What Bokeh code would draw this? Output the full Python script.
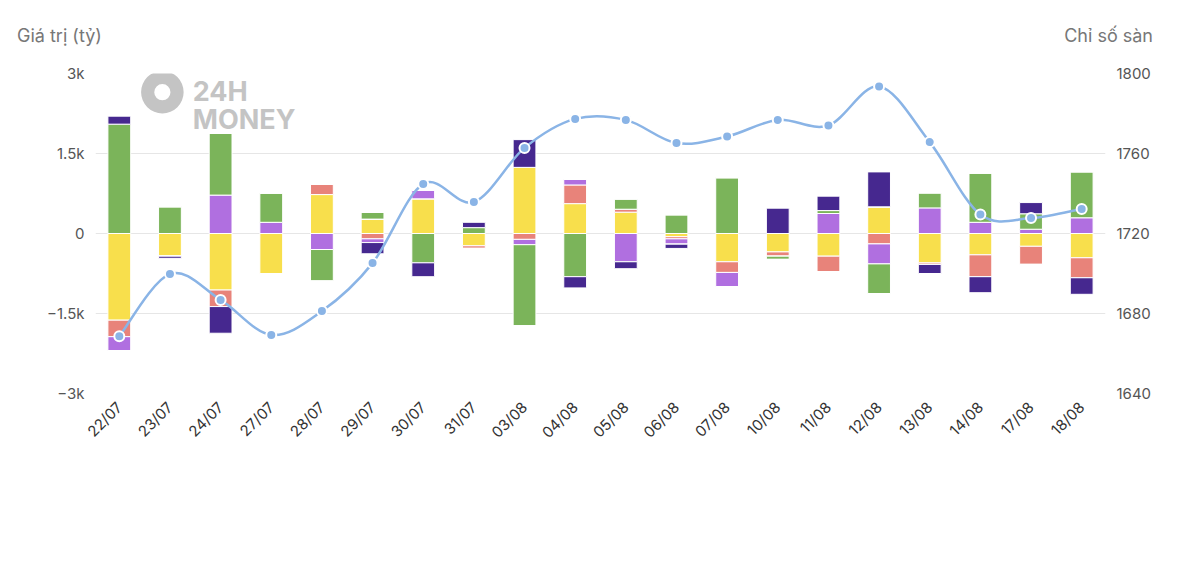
import numpy as np
from bokeh.plotting import figure
from bokeh.models import (Range1d, LinearAxis, FixedTicker, Legend, LegendItem, Label, Div)
from bokeh.layouts import column
from bokeh.embed import file_html
from bokeh.resources import INLINE

dates = ["22/07","23/07","24/07","27/07","28/07","29/07","30/07","31/07","03/08","04/08",
         "05/08","06/08","07/08","10/08","11/08","12/08","13/08","14/08","17/08","18/08"]
tu_doanh      = [150,-40,-500,0,0,-210,-260,100,520,-210,-130,-80,0,475,270,655,-170,-300,210,-310]
ca_nhan_tn    = [2050,500,1155,545,-590,125,-550,110,-1520,-810,190,350,1045,-60,55,-555,280,920,290,860]
to_chuc_tn    = [-260,0,720,210,-300,-70,160,0,-100,105,-530,-100,-270,0,375,-375,480,210,80,295]
ca_nhan_nn    = [-310,0,-310,0,190,-100,0,-50,-110,350,55,-40,-200,-80,-290,-195,-30,-410,-340,-375]
to_chuc_nn    = [-1625,-425,-1060,-750,730,270,650,-230,1240,560,400,-60,-530,-345,-425,500,-550,-400,-240,-455]
chi_so_san    = [1668.6,1699.8,1686.8,1669.3,1681.2,1705.2,1744.8,1735.7,1762.8,1777.3,
                 1776.8,1765.2,1768.5,1776.8,1774.0,1793.5,1765.7,1729.5,1727.7,1732.3]

names = ["Tự doanh ròng","Cá nhân trong nước ròng","Tổ chức trong nước ròng","Cá nhân nước ngoài ròng","Tổ chức nước ngoài ròng"]
colors = ["#46288f","#7bb45a","#b06fe0","#e8837a","#f8df4c"]
series = [tu_doanh, ca_nhan_tn, to_chuc_tn, ca_nhan_nn, to_chuc_nn]

x = np.arange(len(dates))
p = figure(frame_width=1010, frame_height=320, x_range=Range1d(-0.47, len(dates)-0.53),
           y_range=Range1d(-3000, 3000), output_backend="svg", toolbar_location=None,
           min_border_left=95, min_border_right=10, min_border_top=20, min_border_bottom=143)
p.outline_line_color = None
p.background_fill_color = "white"

# watermark
p.annulus(x=[0.85], y=[2650], inner_radius=0.16, outer_radius=0.42, fill_color="#c4c4c4", line_color=None)
p.add_layout(Label(x=1.45, y=2350, text="24H", text_font_size="27px", text_font_style="bold",
                   text_color="#c4c4c4", text_font="Inter"))
p.add_layout(Label(x=1.45, y=2350, text="MONEY", text_font_size="27px", text_font_style="bold",
                   text_color="#c4c4c4", text_font="Inter", y_offset=-28))

# stacks: last series nearest to zero
pos_base = np.zeros(len(dates)); neg_base = np.zeros(len(dates))
for i in reversed(range(5)):
    v = np.array(series[i], dtype=float)
    pv = np.where(v > 0, v, 0); nv = np.where(v < 0, v, 0)
    p.vbar(x=x, width=0.45, bottom=pos_base, top=pos_base+pv, fill_color=colors[i], line_color="white", line_width=1)
    p.vbar(x=x, width=0.45, bottom=neg_base, top=neg_base+nv, fill_color=colors[i], line_color="white", line_width=1)
    pos_base = pos_base + pv; neg_base = neg_base + nv

p.extra_y_ranges = {"idx": Range1d(1640, 1800)}
yv = np.array(chi_so_san)
xs = x.astype(float)
def pt(a, i): return a[max(0, min(len(a)-1, i))]
x0 = xs[:-1]; x1 = xs[1:]; y0 = yv[:-1]; y1 = yv[1:]
t = 1/6
cx0 = x0 + (x1 - np.array([pt(xs, i-1) for i in range(len(xs)-1)]))*t
cy0 = y0 + (y1 - np.array([pt(yv, i-1) for i in range(len(yv)-1)]))*t
cx1 = x1 - (np.array([pt(xs, i+2) for i in range(len(xs)-1)]) - x0)*t
cy1 = y1 - (np.array([pt(yv, i+2) for i in range(len(yv)-1)]) - y0)*t
lc = "#8ab4e6"
p.bezier(x0=x0, y0=y0, x1=x1, y1=y1, cx0=cx0, cy0=cy0, cx1=cx1, cy1=cy1,
         line_color=lc, line_width=2.5, y_range_name="idx")
p.scatter(x=xs, y=yv, size=10, fill_color=lc, line_color="white", line_width=2, y_range_name="idx")

p.xaxis.ticker = FixedTicker(ticks=list(x))
p.xaxis.major_label_overrides = {int(i): d for i, d in enumerate(dates)}
p.xaxis.major_label_orientation = 0.785
p.xaxis.axis_line_color = None
p.xaxis.major_tick_line_color = None
p.xaxis.major_label_text_font_size = "15px"
p.xaxis.major_label_text_color = "#333333"
p.yaxis.ticker = FixedTicker(ticks=[-3000,-1500,0,1500,3000])
p.yaxis.major_label_overrides = {-3000:"−3k",-1500:"−1.5k",0:"0",1500:"1.5k",3000:"3k"}
ax2 = LinearAxis(y_range_name="idx", ticker=FixedTicker(ticks=[1640,1680,1720,1760,1800]))
p.add_layout(ax2, "right")
for ax in [p.yaxis[0], ax2]:
    ax.axis_line_color = None
    ax.major_tick_line_color = None
    ax.minor_tick_line_color = None
    ax.major_label_text_font_size = "15px"
    ax.major_label_text_color = "#555555"
p.xgrid.grid_line_color = None
p.ygrid.ticker = FixedTicker(ticks=[-3000,-1500,0,1500,3000])
p.ygrid.grid_line_color = "#e6e6e6"
for a in p.axis:
    a.major_label_text_font = "Inter"

# legend
rs_list = []
for i in range(5):
    rs_list.append(p.scatter(x=[], y=[], size=13, fill_color=colors[i], line_color=colors[i]))
rl = p.line(x=[], y=[], line_color=lc, line_width=2, line_dash="4 2")
rs = p.scatter(x=[], y=[], size=7, fill_color=lc, line_color=lc)
lis = [LegendItem(label=names[i], renderers=[rs_list[i]]) for i in range(5)]
lis.append(LegendItem(label="Chỉ số sàn", renderers=[rl, rs]))
leg = Legend(items=lis, ncols=3, orientation="horizontal", location=(92, -128),
             label_text_font_size="16px", label_text_font_style="bold", label_text_color="#333333",
             label_text_font="Inter", border_line_color=None, background_fill_alpha=0,
             glyph_width=20, glyph_height=18, label_height=18,
             spacing=3, padding=2, label_width=255, margin=0)
p.add_layout(leg, "center")

div = Div(text='<div style="width:1160px;display:flex;justify-content:space-between;font-family:Inter;'
               'font-size:18px;color:#777;padding:0 12px 0 12px;"><span>Giá trị (tỷ)</span><span>Chỉ số sàn</span></div>',
          width=1184, height=43, styles={"padding-top": "18px"})
layout = column(div, p, spacing=0)
open("out.html", "w").write(file_html(layout, INLINE))
